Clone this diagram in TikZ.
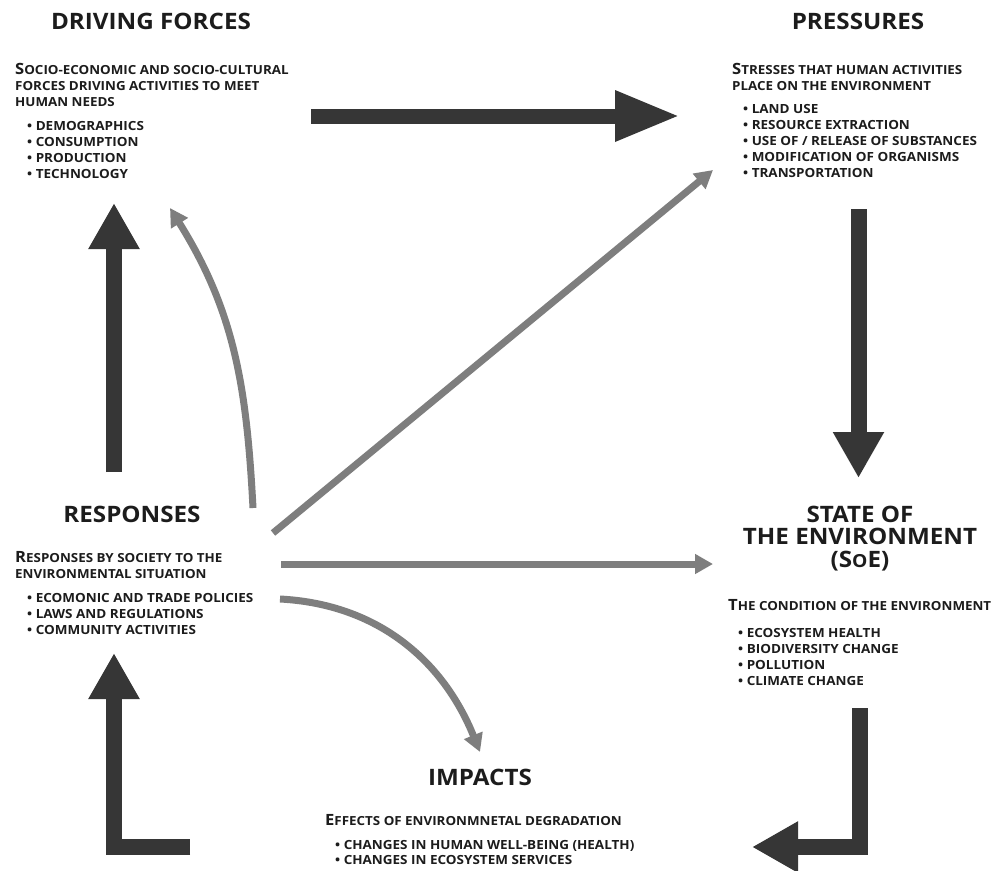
\documentclass[tikz,border=0pt]{standalone}
\usepackage{fontspec}
\setmainfont{Open Sans}[FakeStretch=1.07]
\usetikzlibrary{arrows.meta}
\definecolor{txt}{HTML}{1C1C1C}
\definecolor{arrdark}{HTML}{363636}
\definecolor{arrgrey}{HTML}{7E7E7E}
\newcommand\firstcap[1]{{\fontsize{15.5}{16}\selectfont #1}}
\begin{document}
\begin{tikzpicture}[x=1pt,y=-1pt,
  title/.style={font=\bfseries\fontsize{22.6}{24}\selectfont, text=txt, inner sep=0pt, anchor=base},
  body/.style={font=\bfseries\fontsize{12.5}{16}\selectfont, text=txt, inner sep=0pt, anchor=base west},
  bullets/.style={font=\bfseries\fontsize{12.6}{16}\selectfont, text=txt, inner sep=0pt, anchor=base west},
  bigarr/.style={draw=arrdark, line width=16pt, line join=miter, -{Triangle[width=48pt,length=46pt]}},
  longarr/.style={draw=arrdark, line width=15pt, -{Triangle[width=47pt,length=65pt]}},
  thinarr/.style={draw=arrgrey, line width=7pt, -{Triangle[width=19pt,length=18pt]}}
]
\useasboundingbox[fill=white] (0,0) rectangle (1003,870);

% ---------- DRIVING FORCES ----------
\node[title] (dft) at (151,29) {DRIVING FORCES};
\node[body] (dfs) at (15,74) {\begin{tabular}[t]{@{}l@{}}\firstcap{S}OCIO-ECONOMIC AND SOCIO-CULTURAL\\FORCES DRIVING ACTIVITIES TO MEET\\HUMAN NEEDS\end{tabular}};
\node[bullets] (dfb) at (27,130) {\begin{tabular}[t]{@{}l@{}}• DEMOGRAPHICS\\• CONSUMPTION\\• PRODUCTION\\• TECHNOLOGY\end{tabular}};

% ---------- PRESSURES ----------
\node[title] (pt) at (858,29) {PRESSURES};
\node[body] (ps) at (732,74) {\begin{tabular}[t]{@{}l@{}}\firstcap{S}TRESSES THAT HUMAN ACTIVITIES\\PLACE ON THE ENVIRONMENT\end{tabular}};
\node[bullets] (pb) at (743,113) {\begin{tabular}[t]{@{}l@{}}• LAND USE\\• RESOURCE EXTRACTION\\• USE OF / RELEASE OF SUBSTANCES\\• MODIFICATION OF ORGANISMS\\• TRANSPORTATION\end{tabular}};

% ---------- RESPONSES ----------
\node[title] (rt) at (132,522) {RESPONSES};
\node[body] (rs) at (15,562) {\begin{tabular}[t]{@{}l@{}}\firstcap{R}ESPONSES BY SOCIETY TO THE\\ENVIRONMENTAL SITUATION\end{tabular}};
\node[bullets] (rb) at (27,602) {\begin{tabular}[t]{@{}l@{}}• ECOMONIC AND TRADE POLICIES\\• LAWS AND REGULATIONS\\• COMMUNITY ACTIVITIES\end{tabular}};

% ---------- STATE OF THE ENVIRONMENT ----------
\node[title,font=\bfseries\fontsize{22.6}{21.5}\selectfont] (st) at (860,522) {\begin{tabular}[t]{@{}c@{}}STATE OF\\THE ENVIRONMENT\\(S{\fontsize{18}{20}\selectfont O}E)\end{tabular}};
\node[body] (ss) at (728,610) {\firstcap{T}HE CONDITION OF THE ENVIRONMENT};
\node[bullets] (sb) at (738,637) {\begin{tabular}[t]{@{}l@{}}• ECOSYSTEM HEALTH\\• BIODIVERSITY CHANGE\\• POLLUTION\\• CLIMATE CHANGE\end{tabular}};

% ---------- IMPACTS ----------
\node[title] (it) at (480,785) {IMPACTS};
\node[body] (is) at (325,825) {\firstcap{E}FFECTS OF ENVIRONMNETAL DEGRADATION};
\node[bullets,font=\bfseries\fontsize{12.6}{15}\selectfont] (ib) at (335,849) {\begin{tabular}[t]{@{}l@{}}• CHANGES IN HUMAN WELL-BEING (HEALTH)\\• CHANGES IN ECOSYSTEM SERVICES\end{tabular}};

% ---------- connector end points ----------
\coordinate (dfOut) at (311,116);  \coordinate (pIn) at (680,116);
\coordinate (pOut) at (858.5,209); \coordinate (sIn) at (858.5,478);
\coordinate (sOut) at (859.5,708); \coordinate (iIn) at (752,847);
\coordinate (iOut) at (190,847);   \coordinate (rIn) at (114,653);
\coordinate (rOut) at (114,472);   \coordinate (dfIn) at (114,203);
\coordinate (rCurveUp) at (253,508);  \coordinate (dfCurveIn) at (170,208);
\coordinate (rDiag) at (273,533);     \coordinate (pDiagIn) at (713,170);
\coordinate (rHor) at (281,564);      \coordinate (sHorIn) at (713,564);
\coordinate (rCurveDown) at (280,599);\coordinate (iCurveIn) at (480,752);

% ---------- big arrows ----------
\draw[longarr] (dfOut) -- (pIn);
\draw[bigarr] (pOut) -- (sIn);
\draw[bigarr] (sOut) |- (iIn);
\draw[bigarr] (iOut) -| (rIn);
\draw[bigarr] (rOut) -- (dfIn);

% ---------- grey arrows ----------
\draw[thinarr] (rCurveUp) to[out=93,in=-58] (dfCurveIn);
\draw[thinarr] (rDiag) -- (pDiagIn);
\draw[thinarr] (rHor) -- (sHorIn);
\draw[thinarr] (rCurveDown) to[out=-3,in=112] (iCurveIn);
\end{tikzpicture}
\end{document}
